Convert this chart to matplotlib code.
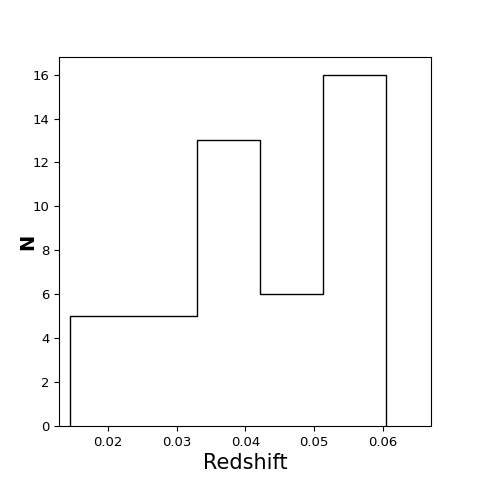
import numpy as np
import matplotlib
matplotlib.use("Agg")
import matplotlib.pyplot as plt

# histogram of redshifts
bin_edges = [0.0145, 0.0237, 0.0329, 0.0421, 0.0513, 0.0605]
counts = [5, 5, 13, 6, 16]

plt.rcParams["font.family"] = ["DejaVu Sans"]

fig = plt.figure(figsize=(4.79, 4.79), dpi=100)
ax = fig.add_axes([59 / 479, 53 / 479, 372 / 479, 369 / 479])

centers = [(a + b) / 2 for a, b in zip(bin_edges[:-1], bin_edges[1:])]
ax.hist(centers, bins=bin_edges, weights=counts, histtype="step", color="black")

ax.set_xlim(0.0129, 0.0670)
ax.set_ylim(0, 16.8)
ax.set_xticks([0.02, 0.03, 0.04, 0.05, 0.06])
ax.set_yticks(np.arange(0, 17, 2))
ax.tick_params(labelsize=9.5)
ax.set_xlabel("Redshift", fontsize=15, labelpad=3)
ax.set_ylabel("N", fontsize=14, fontweight="bold")
ax.yaxis.set_label_coords(-0.058, 0.5)

fig.savefig("out.png", dpi=100)
